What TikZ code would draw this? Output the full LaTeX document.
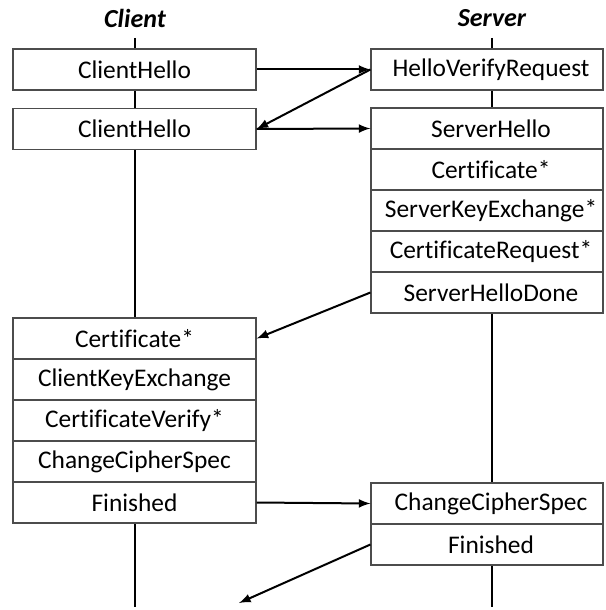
\documentclass[tikz,border=0pt]{standalone}
\usepackage{fontspec}
\setmainfont{Carlito}[Ligatures=NoCommon]
\usepackage{tikz}
\usetikzlibrary{arrows}

\begin{document}
\begin{tikzpicture}[x=0.5pt, y=-0.5pt,
		>=latex,   %Pfeilspitzen
		box/.style={draw=black!70, line width=0.6pt, fill=white, minimum height=20.5pt, inner sep=0pt, font=\fontsize{12.7}{14}\selectfont},
		cbox/.style={box, minimum width=121.5pt},
		sbox/.style={box, minimum width=116pt, execute at begin node=\hspace*{4pt}},
		life/.style={line width=1.1pt},
		msg/.style={->, line width=1pt},
		head/.style={font=\fontsize{13}{15}\selectfont\bfseries\itshape}]
		\useasboundingbox (0,0) rectangle (605,610);
		%Lebenslinien
		\coordinate (cTop) at (135,38);
		\coordinate (cBot) at (135,607);
		\coordinate (sTop) at (492,38);
		\coordinate (sBot) at (492,607);
		\draw[life] (cTop) -- (cBot);
		\draw[life] (sTop) -- (sBot);
		%Kopf
		\node[head] (client) at (135,18) {Client};
		\node[head] (server) at (492,18) {Server};
		%Client
		\node[cbox] (ch1) at (134.5,69.5) {ClientHello};
		\node[cbox] (ch2) at (134.5,129) {ClientHello};
		\node[cbox] (ccert) at (134.5,338.5) {Certificate*};
		\node[cbox] (ckx) at (134.5,379.5) {ClientKeyExchange};
		\node[cbox] (cver) at (134.5,420.5) {CertificateVerify*};
		\node[cbox] (cccs) at (134.5,461.5) {ChangeCipherSpec};
		\node[cbox] (cfin) at (134.5,502.5) {Finished};
		%Server
		\node[sbox] (hvr) at (487,69.5) {HelloVerifyRequest};
		\node[sbox] (sh) at (487,128.5) {ServerHello};
		\node[sbox] (scert) at (487,169.5) {Certificate*};
		\node[sbox] (skx) at (487,210.5) {ServerKeyExchange*};
		\node[sbox] (sreq) at (487,251.5) {CertificateRequest*};
		\node[sbox] (shd) at (487,292.5) {ServerHelloDone};
		\node[sbox] (sccs) at (487,503.5) {ChangeCipherSpec};
		\node[sbox] (sfin) at (487,544.5) {Finished};
		%Nachrichten
		\coordinate (app) at (239,603);
		\draw[msg] (ch1.east) -- (hvr.west);
		\draw[msg] (hvr.west) -- (ch2.east);
		\draw[msg] (ch2.east) -- (sh.west);
		\draw[msg] (shd.west) -- (ccert.east);
		\draw[msg] (cfin.east) -- (sccs.west);
		\draw[msg] (sfin.west) -- (app);
	\end{tikzpicture}
\end{document}
